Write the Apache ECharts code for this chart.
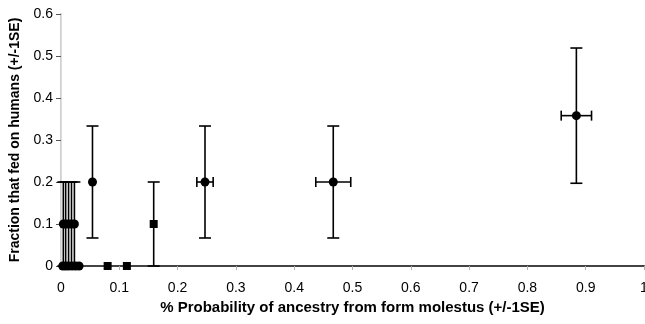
<!DOCTYPE html>
<html>
<head>
<meta charset="utf-8">
<script src="https://cdn.jsdelivr.net/npm/echarts@6/dist/echarts.min.js"></script>
<style>
  html, body { margin: 0; padding: 0; background: #fff; }
  #chart { width: 645px; height: 324px; }
</style>
</head>
<body>
<div id="chart"></div>
<script>
// points
const xVals = [0.004, 0.008, 0.013, 0.018, 0.023, 0.003, 0.008, 0.013, 0.019, 0.025, 0.031, 0.054, 0.080, 0.113, 0.159, 0.247, 0.467, 0.884];
const yVals = [0.1, 0.1, 0.1, 0.1, 0.1, 0, 0, 0, 0, 0, 0, 0.2, 0, 0, 0.1, 0.2, 0.2, 0.358];
const xErr = [0, 0, 0, 0, 0, 0, 0, 0, 0, 0, 0, 0, 0, 0, 0, 0.014, 0.030, 0.026];
const yErr = [0.1, 0.1, 0.1, 0.1, 0.1, 0, 0, 0, 0, 0, 0, 0.1333, 0, 0, 0.1, 0.1333, 0.1333, 0.161];
const markerShape = ['circle', 'circle', 'circle', 'circle', 'circle', 'circle', 'circle', 'circle', 'circle', 'circle', 'circle', 'circle', 'rect', 'rect', 'rect', 'circle', 'circle', 'circle'];
const xTicks = [0, 1, 0.1];   // min, max, step
const yTicks = [0, 0.6, 0.1];

let errData = []
let circleData = []
let squareData = []
xVals.forEach((x, i) => {
  errData.push([x, yVals[i], xErr[i], yErr[i]])
  if (markerShape[i] === 'rect') squareData.push([x, yVals[i]])
  else circleData.push([x, yVals[i]])
})

const font = 'Liberation Sans, Arial, sans-serif'
const chart = echarts.init(document.getElementById('chart'), null, { renderer: 'canvas' })

function renderErr(params, api) {
  const x = api.value(0), y = api.value(1), xe = api.value(2), ye = api.value(3)
  const st = { stroke: '#000', lineWidth: 1.6 }
  const kids = []
  if (ye > 0) {
    const top = api.coord([x, y + ye]), bot = api.coord([x, y - ye])
    kids.push({ type: 'line', shape: { x1: top[0], y1: top[1], x2: bot[0], y2: bot[1] }, style: st })
    kids.push({ type: 'line', shape: { x1: top[0] - 6, y1: top[1], x2: top[0] + 6, y2: top[1] }, style: st })
    kids.push({ type: 'line', shape: { x1: bot[0] - 6, y1: bot[1], x2: bot[0] + 6, y2: bot[1] }, style: st })
  }
  if (xe > 0) {
    const l = api.coord([x - xe, y]), r = api.coord([x + xe, y])
    kids.push({ type: 'line', shape: { x1: l[0], y1: l[1], x2: r[0], y2: r[1] }, style: st })
    kids.push({ type: 'line', shape: { x1: l[0], y1: l[1] - 5, x2: l[0], y2: l[1] + 5 }, style: st })
    kids.push({ type: 'line', shape: { x1: r[0], y1: r[1] - 5, x2: r[0], y2: r[1] + 5 }, style: st })
  }
  return { type: 'group', children: kids }
}

const option = {
  animation: false,
  grid: { left: 61, right: 1, top: 14, bottom: 58, outerBoundsMode: 'none', containLabel: false },
  xAxis: [
    {
      type: 'value',
      min: xTicks[0], max: xTicks[1], interval: xTicks[2],
      name: '% Probability of ancestry from form molestus (+/-1SE)',
      nameLocation: 'middle',
      nameGap: 32,
      nameTextStyle: { fontFamily: font, fontSize: 15, fontWeight: 'bold', color: '#000' },
      axisLine: { lineStyle: { color: '#a0a0a0', width: 2 } },
      axisTick: { show: true, length: 4, lineStyle: { color: '#b0b0b0' } },
      axisLabel: { fontFamily: font, fontSize: 14, color: '#000', margin: 15 },
      splitLine: { show: false }
    },
    {
      type: 'value', position: 'top',
      min: xTicks[0], max: xTicks[1],
      axisLine: { show: true, lineStyle: { color: '#444', width: 2 } },
      axisTick: { show: false }, axisLabel: { show: false }, splitLine: { show: false }
    }
  ],
  yAxis: [
    {
      type: 'value',
      min: yTicks[0], max: yTicks[1], interval: yTicks[2],
      name: 'Fraction that fed on humans (+/-1SE)',
      nameLocation: 'middle',
      nameGap: 34,
      nameTextStyle: { fontFamily: font, fontSize: 14, fontWeight: 'bold', color: '#000' },
      axisLine: { show: true, lineStyle: { color: '#d0d0d0', width: 2 } },
      axisTick: { show: true, length: 5, lineStyle: { color: '#555' } },
      axisLabel: { fontFamily: font, fontSize: 14, color: '#000', margin: 8 },
      splitLine: { show: false }
    },
    {
      type: 'value', position: 'right',
      min: yTicks[0], max: yTicks[1],
      axisLine: { show: true, lineStyle: { color: '#dcdcdc', width: 1 } },
      axisTick: { show: false }, axisLabel: { show: false }, splitLine: { show: false }
    }
  ],
  series: [
    {
      type: 'custom',
      renderItem: renderErr,
      data: errData,
      encode: { x: 0, y: 1 },
      z: 2
    },
    {
      type: 'scatter',
      symbol: 'circle',
      symbolSize: 9,
      itemStyle: { color: '#000', opacity: 1 },
      data: circleData,
      z: 3
    },
    {
      type: 'scatter',
      symbol: 'rect',
      symbolSize: 8,
      itemStyle: { color: '#000', opacity: 1 },
      data: squareData,
      z: 3
    }
  ]
}
chart.setOption(option)
</script>
</body>
</html>
